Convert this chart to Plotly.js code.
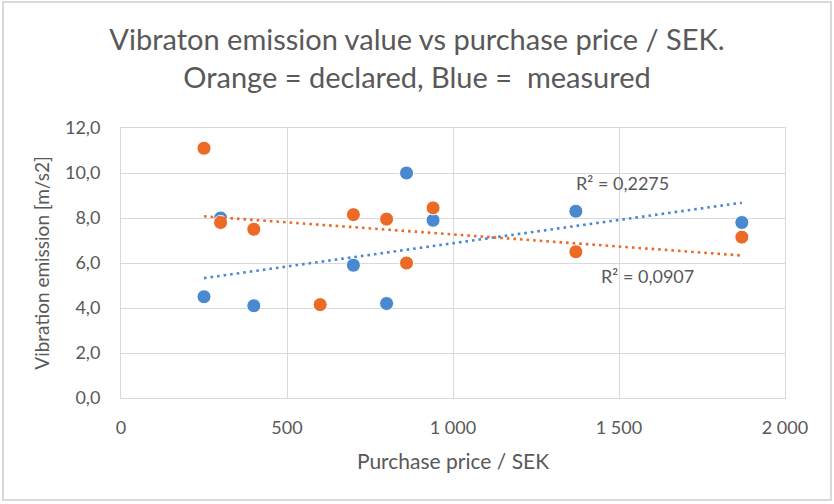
<!DOCTYPE html>
<html>
<head>
<meta charset="utf-8">
<script src="https://cdn.plot.ly/plotly-3.0.1.min.js"></script>
<style>
  html, body { margin: 0; padding: 0; background: #ffffff; }
  #wrap { position: relative; width: 834px; height: 504px; }
  #chart { position: absolute; left: 0; top: 0; width: 834px; height: 504px; }
  #frame { position: absolute; left: 2px; top: 1px; width: 826px; height: 496px;
           border: 2px solid #d9d9d9; pointer-events: none; }
</style>
</head>
<body>
<div id="wrap"><div id="chart"></div><div id="frame"></div></div>
<script>
// Purchase price (SEK) per product
const priceDeclared = [250, 300, 400, 600, 700, 800, 860, 940, 1370, 1870];
const declaredValues = [11.1, 7.8, 7.5, 4.15, 8.15, 7.95, 6.0, 8.45, 6.5, 7.15];
const priceMeasured = [250, 300, 400, 600, 700, 800, 860, 940, 1370, 1870];
const measuredValues = [4.5, 8.0, 4.1, 4.15, 5.9, 4.2, 10.0, 7.9, 8.3, 7.8];
const r2Labels = ["R² = 0,2275", "R² = 0,0907"];
const yTicks = [0, 2, 4, 6, 8, 10, 12];
const xTicks = [0, 500, 1000, 1500, 2000];

const BLUE = "#4a88d0";
const ORANGE = "#eb6b26";
const TXT = "#595959";
const FONT = "Lato, 'Open Sans', sans-serif";

// Least-squares linear trendline (as Excel computes it), spanning min..max x
function trend(xs, ys) {
  const n = xs.length;
  const mx = xs.reduce((a, b) => a + b, 0) / n;
  const my = ys.reduce((a, b) => a + b, 0) / n;
  let sxy = 0, sxx = 0;
  for (let i = 0; i < n; i++) { sxy += (xs[i] - mx) * (ys[i] - my); sxx += (xs[i] - mx) ** 2; }
  const b = sxy / sxx, a = my - b * mx;
  const x0 = Math.min(...xs), x1 = Math.max(...xs);
  return { x: [x0, x1], y: [a + b * x0, a + b * x1] };
}
const tBlue = trend(priceMeasured, measuredValues);
const tOrange = trend(priceDeclared, declaredValues);

const data = [
  { type: "scatter", mode: "markers", x: priceMeasured, y: measuredValues, name: "Measured",
    marker: { color: BLUE, size: 14, line: { color: "#ffffff", width: 1 } }, cliponaxis: false },
  { type: "scatter", mode: "markers", x: priceDeclared, y: declaredValues, name: "Declared",
    marker: { color: ORANGE, size: 14, line: { color: "#ffffff", width: 1 } }, cliponaxis: false },
  { type: "scatter", mode: "lines", x: tBlue.x, y: tBlue.y, name: "Trend measured",
    line: { color: BLUE, width: 2.6, dash: "2.6px,4px" } },
  { type: "scatter", mode: "lines", x: tOrange.x, y: tOrange.y, name: "Trend declared",
    line: { color: ORANGE, width: 2.6, dash: "2.6px,4px" } }
];

const layout = {
  width: 834, height: 504,
  margin: { l: 121, r: 49, t: 128, b: 106, pad: 0 },
  paper_bgcolor: "#ffffff", plot_bgcolor: "#ffffff",
  showlegend: false,
  separators: ", ",
  font: { family: FONT, color: TXT },
  title: {
    text: "Vibraton emission value vs purchase price / SEK.<br>Orange = declared, Blue =  measured",
    font: { family: FONT, size: 29, color: TXT },
    xref: "container", x: 0.5, xanchor: "center",
    yref: "container", y: 0.9, yanchor: "top"
  },
  xaxis: {
    range: [0, 2000], tickvals: xTicks, tickformat: ",d",
    showgrid: true, gridcolor: "#d9d9d9", gridwidth: 1,
    zeroline: false, showline: true, linecolor: "#d9d9d9", linewidth: 1, mirror: true,
    ticks: "", ticklabelstandoff: 13,
    tickfont: { family: FONT, size: 18, color: TXT },
    title: { text: "Purchase price / SEK", font: { family: FONT, size: 21, color: TXT }, standoff: 17 }
  },
  yaxis: {
    range: [0, 12], tickvals: yTicks, tickformat: ".1f",
    showgrid: true, gridcolor: "#d9d9d9", gridwidth: 1,
    zeroline: false, showline: true, linecolor: "#d9d9d9", linewidth: 1, mirror: true,
    ticks: "", ticklabelstandoff: 16,
    tickfont: { family: FONT, size: 18, color: TXT },
    title: { text: "Vibration emission [m/s2]", font: { family: FONT, size: 19, color: TXT }, standoff: 10 }
  },
  annotations: [
    { x: 1512, y: 9.55, xref: "x", yref: "y", text: r2Labels[0], showarrow: false,
      font: { family: FONT, size: 18, color: TXT } },
    { x: 1587, y: 5.42, xref: "x", yref: "y", text: r2Labels[1], showarrow: false,
      font: { family: FONT, size: 18, color: TXT } }
  ]
};

Plotly.newPlot("chart", data, layout, { displayModeBar: false, staticPlot: true });
</script>
</body>
</html>
